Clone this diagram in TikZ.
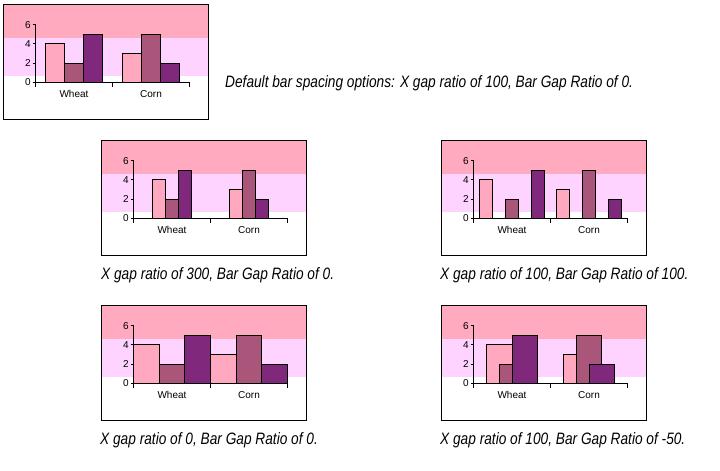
\documentclass[tikz,border=0pt]{standalone}
\usepackage{fontspec}
\setmainfont{Liberation Sans}
\newfontfamily\capfont[FakeStretch=0.83]{Liberation Sans}
\usetikzlibrary{calc}
\definecolor{bandtop}{HTML}{FFAABF}
\definecolor{bandmid}{HTML}{FFD3FF}
\definecolor{barA}{HTML}{FFA8C0}
\definecolor{barB}{HTML}{AA557A}
\definecolor{barC}{HTML}{80287C}
\tikzset{
  chartbox/.style={draw=black, line width=1pt},
  axisline/.style={draw=black, line width=1pt},
  barbox/.style={draw=black, line width=0.9pt},
  ticklab/.style={font=\fontsize{10}{12}\selectfont, inner sep=0pt},
  caption/.style={font=\capfont\itshape\fontsize{16.5}{19}\selectfont, anchor=base west, inner sep=0pt}
}
\newcommand{\barchart}[4]{%
  \begin{scope}[shift={#2}]
    \pgfmathsetmacro\bw{77/(1+2*(1+(#4)/100)+(#3)/100)}
    \pgfmathsetmacro\bs{\bw*(1+(#4)/100)}
    \pgfmathsetmacro\bo{\bw*(#3)/200}
    \fill[bandtop] (0,0) rectangle (205,33);
    \fill[bandmid] (0,33) rectangle (205,71);
    \foreach \v/\c [count=\k from 0] in {4/barA,2/barB,5/barC}
      \draw[barbox, fill=\c] (32+\bo+\k*\bs,78) rectangle ++(\bw,-\v*9.65);
    \foreach \v/\c [count=\k from 0] in {3/barA,5/barB,2/barC}
      \draw[barbox, fill=\c] (109+\bo+\k*\bs,78) rectangle ++(\bw,-\v*9.65);
    \draw[axisline] (32,20.1) -- (32,78) -- (186,78);
    \foreach \t in {0,2,4,6} {
      \draw[axisline] (29,78-\t*9.65) -- (32,78-\t*9.65);
      \node[ticklab, anchor=east] (#1y\t) at (27.5,78-\t*9.65) {\t};
    }
    \foreach \t in {32,109,186}
      \draw[axisline] (\t,78) -- (\t,82);
    \node[ticklab, anchor=base] (#1wheat) at (70.5,92.5) {Wheat};
    \node[ticklab, anchor=base] (#1corn) at (147.5,92.5) {Corn};
    \draw[chartbox] (0,0) rectangle (205,115);
  \end{scope}}

\begin{document}
\begin{tikzpicture}[x=1pt, y=-1pt]
  \useasboundingbox (0,0) rectangle (720,471);

  \barchart{def}{(3.5,4.5)}{100}{0}
  \barchart{xwide}{(101.5,140.5)}{300}{0}
  \barchart{bwide}{(441.5,140.5)}{100}{100}
  \barchart{xnone}{(101.5,305.5)}{0}{0}
  \barchart{bover}{(441.5,305.5)}{100}{-50}

  \node[caption] (capdef) at (225,87) {Default bar spacing options: X gap ratio of 100, Bar Gap Ratio of 0.};
  \node[caption] (capxwide) at (101,279) {X gap ratio of 300, Bar Gap Ratio of 0.};
  \node[caption] (capbwide) at (440,279) {X gap ratio of 100, Bar Gap Ratio of 100.};
  \node[caption] (capxnone) at (100,444) {X gap ratio of 0, Bar Gap Ratio of 0.};
  \node[caption] (capbover) at (440,444) {X gap ratio of 100, Bar Gap Ratio of -50.};
\end{tikzpicture}
\end{document}
